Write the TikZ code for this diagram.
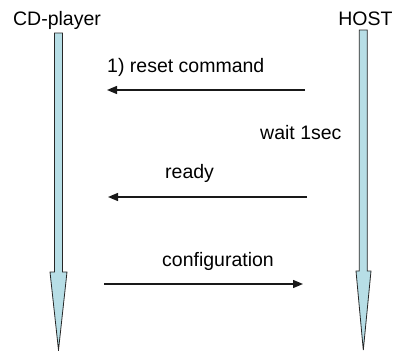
\documentclass[tikz,border=0pt]{standalone}
\usepackage{fontspec}
\setmainfont{Liberation Sans}
\usetikzlibrary{positioning,arrows.meta}
\definecolor{lifeblue}{RGB}{183,222,230}

\begin{document}
\begin{tikzpicture}[x=1pt, y=-1pt,
    lifeline/.style={draw=black!85, fill=lifeblue, line width=0.8pt, line join=miter},
    msg/.style={-{Triangle[length=10pt, width=8pt]}, line width=1.4pt, black!90},
    label/.style={font=\fontsize{19.5}{22}\selectfont, inner sep=0pt, anchor=base west},
    head/.style={font=\fontsize{19.5}{22}\selectfont, inner sep=0pt, anchor=base}
]
\useasboundingbox (0,0) rectangle (397,351);
% Lifelines
\node[head] (cd) at (57,25) {CD-player};
\node[head] (host) at (365.5,25) {HOST};
\draw[lifeline] (54.5,33) -- (62.5,33) -- (62.5,272) -- (67,272) -- (58.5,350)
    -- (50,272) -- (54.5,272) -- cycle;
\draw[lifeline] (359.3,30) -- (367.3,30) -- (367.3,271) -- (371,271) -- (363.3,350)
    -- (356,271) -- (359.3,271) -- cycle;

% Messages
\coordinate (reset-host) at (305,90);
\coordinate (reset-cd) at (107,90);
\coordinate (ready-host) at (307,197);
\coordinate (ready-cd) at (108,197);
\coordinate (conf-cd) at (104,284);
\coordinate (conf-host) at (303,284);
\draw[msg] (reset-host) -- (reset-cd);
\draw[msg] (ready-host) -- (ready-cd);
\draw[msg] (conf-cd) -- (conf-host);
\node[label] (reset) at (107,72) {1) reset command};
\node[label] (wait) at (260,139.5) {wait 1sec};
\node[label] (ready) at (165,178.5) {ready};
\node[label] (conf) at (162,266) {configuration};
\end{tikzpicture}
\end{document}
